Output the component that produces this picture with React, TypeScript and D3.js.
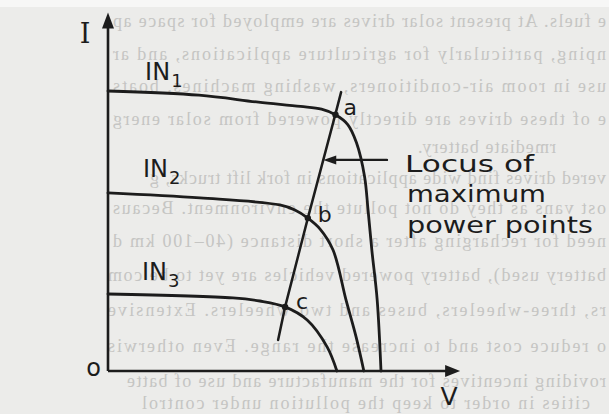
import React from 'react';
import * as d3 from 'd3';

const W = 609;
const H = 414;

// I–V curves for three insolation levels: [V, I] in arbitrary units
const IN1: [number, number][] = [
  [0, 10.0], [2.6, 9.85], [4.3, 9.6], [5.5, 9.45], [6.1, 9.35], [6.5, 9.15],
  [6.85, 8.8], [7.1, 8.15], [7.33, 6.95], [7.43, 5.75], [7.54, 4.3], [7.69, 2.55], [7.8, 0],
];
const IN2: [number, number][] = [
  [0, 6.36], [2.63, 6.18], [4.91, 5.93], [5.34, 5.75], [5.71, 5.46], [6.06, 5.07],
  [6.43, 4.32], [6.8, 2.54], [7.09, 1.21], [7.31, 0],
];
const IN3: [number, number][] = [
  [0, 2.75], [3.57, 2.61], [4.34, 2.5], [5.06, 2.29], [5.69, 1.82], [6.26, 0.86], [6.54, 0],
];
const LOCUS: [number, number][] = [
  [4.86, 1.11], [5.06, 2.29], [5.71, 5.46], [6.49, 9.14], [6.66, 9.96],
];
const MPP_NAMES = ['a', 'b', 'c'];
const MPP: [number, number][] = [[6.5, 9.15], [5.71, 5.46], [5.06, 2.29]];
const CURVE_NAMES = ['1', '2', '3'];
const CURVE_LABEL_POS: [number, number][] = [[1.06, 10.4], [1.0, 6.93], [0.97, 3.25]];
const ARROW_I = 7.54;
const ARROW_V0 = 7.97;
const V_MAX = 10.06;
const I_MAX = 12.8;
const LOCUS_TEXT = ['Locus of', 'maximum', 'power points'];
const LOCUS_WIDTHS = [129, 139, 186];

// faint show-through text from the other side of the page (mirrored)
const BG_LINES = [
  'e fuels. At present solar drives are employed for space ap',
  'nping, particularly for agriculture applications, and ar',
  'use in room air-conditioners, washing machines, boats',
  'e of these drives are directly powered from solar energ',
  'rmediate battery.',
  'vered drives find wide applications in fork lift trucks, g',
  'ost vans as they do not pollute the environment. Becaus',
  'need for recharging after a short distance (40–100 km d',
  'battery used), battery powered vehicles are yet to be com',
  'rs, three-wheelers, buses and two-wheelers. Extensive',
  'o reduce cost and to increase the range. Even otherwis',
  'roviding incentives for the manufacture and use of batte',
  'cities in order to keep the pollution under control',
];
const BG_Y = [27, 60, 92, 125, 153, 184, 214, 247, 281, 316, 352, 387, 409];
const BG_LEFT = [113, 113, 113, 113, 418, 150, 113, 113, 108, 108, 108, 127, 142];
const BG_RIGHT = [606, 606, 606, 606, 556, 606, 606, 606, 606, 606, 606, 606, 590];

export default function App() {
  const x = d3.scaleLinear().domain([0, 10]).range([108, 458]);
  const y = d3.scaleLinear().domain([0, 10]).range([371, 91]);
  const line = d3
    .line<[number, number]>()
    .x((d) => x(d[0]))
    .y((d) => y(d[1]))
    .curve(d3.curveCatmullRom.alpha(0.5));
  const straight = d3
    .line<[number, number]>()
    .x((d) => x(d[0]))
    .y((d) => y(d[1]))
    .curve(d3.curveLinear);

  const ink = '#1c1c1c';
  const x0 = x(0);
  const y0 = y(0);
  const xTip = x(V_MAX);
  const yTip = y(I_MAX);

  // arrow from the "Locus" text to the locus line
  const ay = y(ARROW_I);
  const la = LOCUS[3];
  const lb = LOCUS[2];
  const t = (ARROW_I - lb[1]) / (la[1] - lb[1]);
  const ax = x(lb[0] + t * (la[0] - lb[0]));
  const ax0 = x(ARROW_V0);

  const labelFont = 'DejaVu Sans, sans-serif';

  return (
    <svg
      width={W}
      height={H}
      viewBox={`0 0 ${W} ${H}`}
      style={{ position: 'absolute', left: 0, top: 0, display: 'block' }}
    >
      <rect x={0} y={0} width={W} height={H} fill="#ececea" />
      <rect x={0} y={0} width={W} height={7} fill="#f7f7f6" />

      <g fill="#c5c5c3" fontFamily="Liberation Serif, serif" fontSize={18}>
        {BG_LINES.map((s, i) => (
          <text
            key={i}
            transform={`translate(${BG_RIGHT[i]},${BG_Y[i]}) scale(-1,1)`}
            x={0}
            y={0}
            textLength={BG_RIGHT[i] - BG_LEFT[i]}
            lengthAdjust="spacing"
          >
            {s}
          </text>
        ))}
      </g>

      {/* axes */}
      <g stroke={ink} strokeWidth={2.6} fill="none">
        <line x1={x0} y1={y0} x2={x0} y2={yTip + 12} />
        <line x1={x0} y1={y0} x2={xTip - 12} y2={y0} />
      </g>
      <path
        d={`M${x0},${yTip} L${x0 - 6},${yTip + 16} L${x0 + 6},${yTip + 16} Z`}
        fill={ink}
      />
      <path
        d={`M${xTip},${y0} L${xTip - 15},${y0 - 6} L${xTip - 15},${y0 + 6} Z`}
        fill={ink}
      />
      <text x={85} y={43} fontFamily="DejaVu Serif, serif" fontSize={27} fill={ink} textAnchor="middle">
        I
      </text>
      <text x={449} y={405} fontFamily={labelFont} fontSize={25} fill={ink} textAnchor="middle">
        V
      </text>
      <text x={93.5} y={376} fontFamily={labelFont} fontSize={24} fill={ink} textAnchor="middle">
        o
      </text>

      {/* I–V curves */}
      <g stroke={ink} strokeWidth={2.8} fill="none" strokeLinecap="round">
        {[IN1, IN2, IN3].map((c, i) => (
          <path key={i} d={line(c) || ''} />
        ))}
        <path d={straight(LOCUS) || ''} strokeWidth={2.5} />
        <line x1={ax0} y1={ay} x2={ax + 10} y2={ay} strokeWidth={2.4} />
      </g>
      <path d={`M${ax},${ay} L${ax + 13},${ay - 4.5} L${ax + 13},${ay + 4.5} Z`} fill={ink} />

      {/* maximum power points */}
      {MPP.map((p, i) => (
        <g key={i}>
          <circle cx={x(p[0])} cy={y(p[1])} r={3.2} fill={ink} />
          <text
            x={x(p[0]) + 8 + (i === 0 ? 0 : i === 1 ? 2 : 3)}
            y={y(p[1]) + (i === 0 ? 0 : i === 1 ? 4 : 2)}
            fontFamily={labelFont}
            fontSize={22}
            fill={ink}
          >
            {MPP_NAMES[i]}
          </text>
        </g>
      ))}

      {/* curve labels */}
      {CURVE_NAMES.map((n, i) => (
        <text
          key={i}
          x={x(CURVE_LABEL_POS[i][0])}
          y={y(CURVE_LABEL_POS[i][1])}
          fontFamily={labelFont}
          fontSize={24}
          fill={ink}
        >
          IN
          <tspan fontSize={18} dy={7} dx={1}>
            {n}
          </tspan>
        </text>
      ))}

      {/* locus annotation */}
      {LOCUS_TEXT.map((s, i) => (
        <text
          key={i}
          x={i === 0 ? 405 : 407}
          y={171.5 + i * 30.5}
          fontFamily={labelFont}
          fontSize={23}
          fill={ink}
          textLength={LOCUS_WIDTHS[i]}
          lengthAdjust="spacingAndGlyphs"
        >
          {s}
        </text>
      ))}
    </svg>
  );
}
